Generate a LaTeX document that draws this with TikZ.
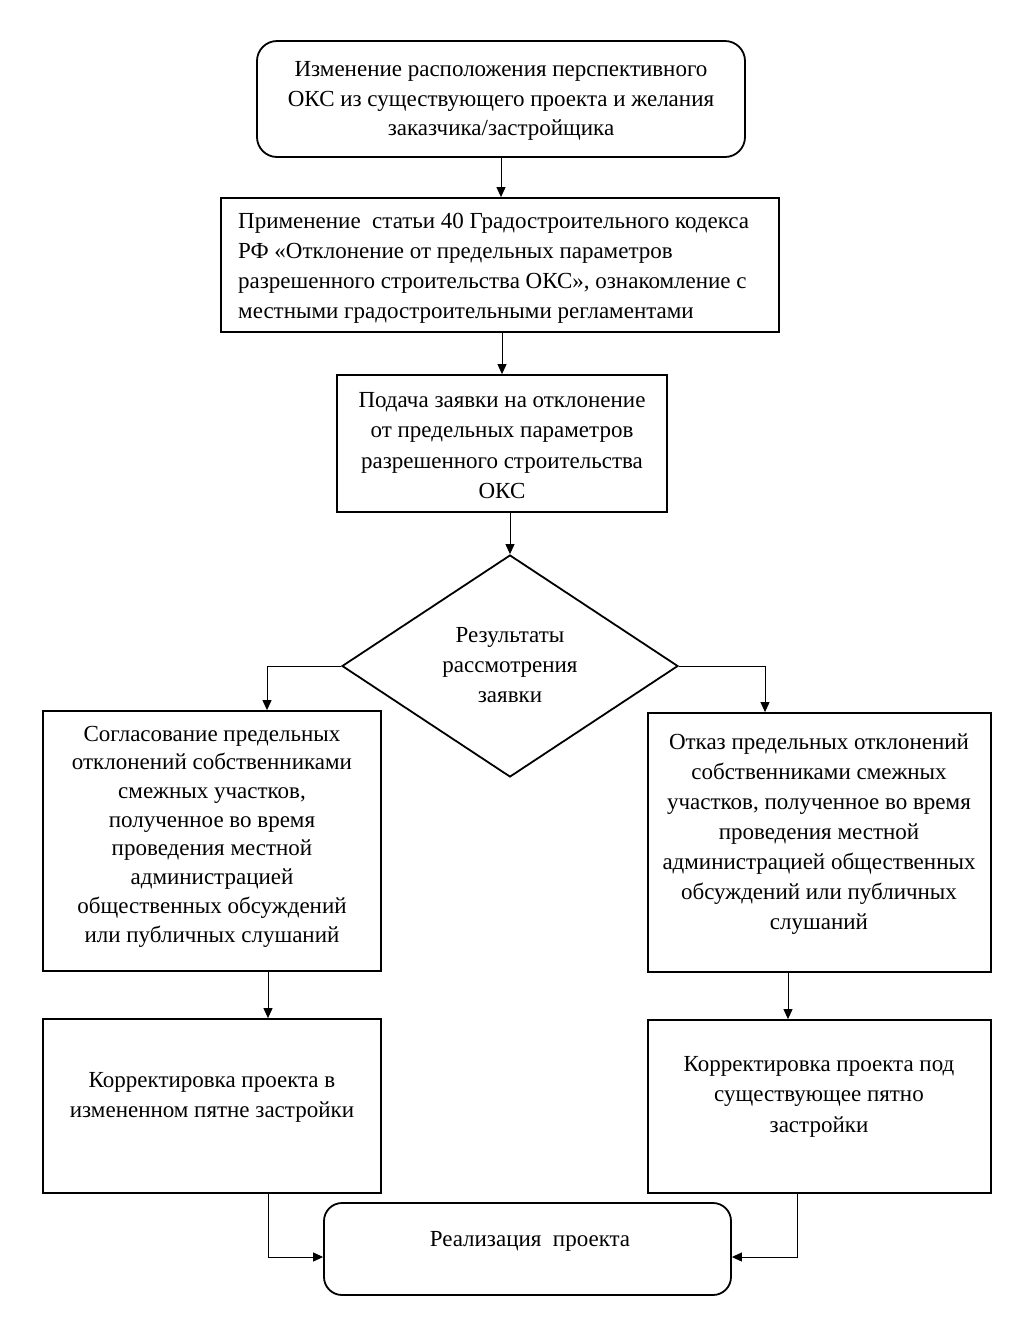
\documentclass[tikz,border=0pt]{standalone}
\usepackage{fontspec}
\setmainfont{Liberation Serif}
\usetikzlibrary{arrows.meta,shapes.geometric,calc}
\begin{document}
\begin{tikzpicture}[x=1pt,y=-1pt,
 box/.style={draw, line width=1.8pt, rectangle, inner sep=0pt},
 rbox/.style={box, rounded corners=20pt},
 dia/.style={draw, line width=1.8pt, diamond, inner sep=0pt},
 txt/.style={font=\fontsize{23}{29.5}\selectfont, align=center, inner sep=0pt, yshift=-2pt},
 conn/.style={line width=1pt, -{Triangle[length=10pt,width=9pt]}},
]
\fill[white] (0,0) rectangle (1036,1342);
\useasboundingbox (0,0) rectangle (1036,1342);

\node[rbox, minimum width=488pt, minimum height=116pt] (b1) at (501,99) {};
\node[box, minimum width=558pt, minimum height=134pt] (b2) at (500,265) {};
\node[box, minimum width=330pt, minimum height=137pt] (b3) at (502,443.5) {};
\node[dia, minimum width=336pt, minimum height=222pt] (d) at (510,666) {};
\node[box, minimum width=338pt, minimum height=260pt] (b4) at (212,841) {};
\node[box, minimum width=343pt, minimum height=259pt] (b5) at (819.5,842.5) {};
\node[box, minimum width=338pt, minimum height=174pt] (b6) at (212,1106) {};
\node[box, minimum width=343pt, minimum height=173pt] (b7) at (819.5,1106.5) {};
\node[rbox, rounded corners=18pt, minimum width=407pt, minimum height=92pt] (b8) at (527.5,1249) {};

\node[txt] (t1) at (501,99) {Изменение расположения перспективного\\ОКС из существующего проекта и желания\\заказчика/застройщика};
\node[txt, align=left, anchor=west, font=\fontsize{23}{30}\selectfont] (t2) at (238,266.5) {Применение\ \ статьи 40 Градостроительного кодекса\\РФ «Отклонение от предельных параметров\\разрешенного строительства ОКС», ознакомление с\\местными градостроительными регламентами};
\node[txt, font=\fontsize{23}{30.3}\selectfont] (t3) at (502,443.5) {Подача заявки на отклонение\\от предельных параметров\\разрешенного строительства\\ОКС};
\node[txt, font=\fontsize{23}{30}\selectfont] (td) at (510,663) {Результаты\\рассмотрения\\заявки};
\node[txt, font=\fontsize{23}{28.7}\selectfont] (t4) at (212,834.5) {Согласование предельных\\отклонений собственниками\\смежных участков,\\полученное во время\\проведения местной\\администрацией\\общественных обсуждений\\или публичных слушаний};
\node[txt, font=\fontsize{23}{30}\selectfont] (t5) at (819,832) {Отказ предельных отклонений\\собственниками смежных\\участков, полученное во время\\проведения местной\\администрацией общественных\\обсуждений или публичных\\слушаний};
\node[txt, font=\fontsize{23}{30}\selectfont] (t6) at (212,1095) {Корректировка проекта в\\измененном пятне застройки};
\node[txt, font=\fontsize{23}{30.5}\selectfont] (t7) at (819,1094.5) {Корректировка проекта под\\существующее пятно\\застройки};
\node[txt] (t8) at (530,1239) {Реализация\ \ проекта};

\draw[conn] (b1.south) -- (b1.south |- b2.north);
\draw[conn] (b3.north |- b2.south) -- (b3.north);
\draw[conn] (d.north |- b3.south) -- (d.north);
\draw[conn] (d.west) -| ($(b4.north)+(55,0)$);
\draw[conn] (d.east) -| ($(b5.north)+(-54.5,0)$);
\draw[conn] ($(b4.south)+(56,0)$) -- ($(b6.north)+(56,0)$);
\draw[conn] ($(b5.south)+(-31.5,0)$) -- ($(b7.north)+(-31.5,0)$);
\draw[conn] ($(b6.south)+(56,0)$) |- ($(b8.west)+(0,8)$);
\draw[conn] ($(b7.south)+(-22.5,0)$) |- ($(b8.east)+(0,8)$);
\end{tikzpicture}
\end{document}
